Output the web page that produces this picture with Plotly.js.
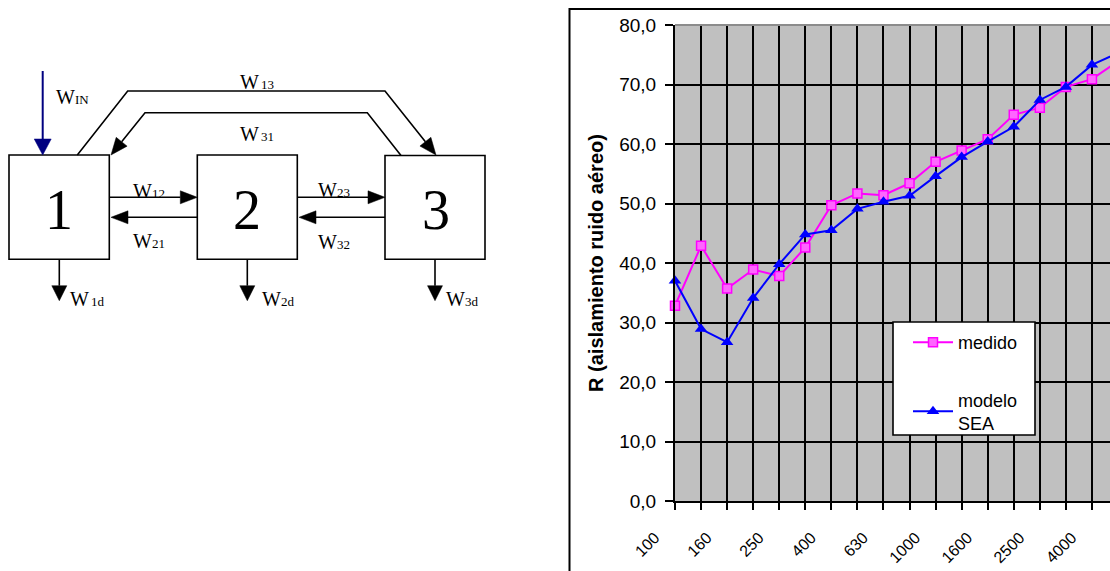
<!DOCTYPE html>
<html>
<head>
<meta charset="utf-8">
<script src="https://cdn.plot.ly/plotly-3.0.1.min.js"></script>
<style>
html,body{margin:0;padding:0;overflow:hidden;background:#fff;}
#chart{width:1300px;height:700px;}
</style>
</head>
<body>
<div id="chart"></div>
<script>
// ---- data ----
const categories = ['100','125','160','200','250','315','400','500','630','800','1000','1250','1600','2000','2500','3150','4000','5000'];
const tickLabels = ['100','','160','','250','','400','','630','','1000','','1600','','2500','','4000',''];
const medido = [32.8,42.9,35.7,38.9,37.8,42.6,49.7,51.7,51.4,53.4,57.0,58.9,60.8,64.9,66.1,69.6,70.9,73.9];
const modeloSEA = [37.0,28.9,26.7,34.1,39.8,44.8,45.5,49.1,50.3,51.3,54.6,57.8,60.4,62.9,67.4,69.6,73.3,75.3];
const seriesNames = ['medido','modelo<br>SEA'];
const yTitle = 'R (aislamiento ruido aéreo)';

// ---- figure geometry (pixels) ----
const W = 1300, H = 700;
const px = x => x / W;
const py = y => 1 - y / H;
const P = (x, y) => px(x).toFixed(5) + ',' + py(y).toFixed(5);

const SANS = 'Liberation Sans, Arial, sans-serif';
const SERIF = 'Liberation Serif, Times New Roman, serif';

const shapes = [];
const annotations = [];

function line(x0, y0, x1, y1, color, width) {
  shapes.push({type:'line', xref:'paper', yref:'paper', x0:px(x0), y0:py(y0), x1:px(x1), y1:py(y1),
    line:{color:color||'#000', width:width||1.6}});
}
function poly(pts, color, width) {
  let d = 'M ' + pts.map(p => P(p[0], p[1])).join(' L ');
  shapes.push({type:'path', xref:'paper', yref:'paper', path:d, line:{color:color||'#000', width:width||1.6}});
}
function head(tx, ty, dx, dy, L, w, color) {
  const n = Math.hypot(dx, dy); dx /= n; dy /= n;
  const bx = tx - L*dx, by = ty - L*dy;
  const qx = -dy, qy = dx;
  const d = 'M ' + P(tx, ty) + ' L ' + P(bx + w*qx, by + w*qy) + ' L ' + P(bx - w*qx, by - w*qy) + ' Z';
  shapes.push({type:'path', xref:'paper', yref:'paper', path:d, fillcolor:color||'#000', line:{color:color||'#000', width:0.5}});
  return [bx, by];
}
function arrow(x0, y0, tx, ty, L, w, color, width) {
  const b = head(tx, ty, tx - x0, ty - y0, L, w, color);
  line(x0, y0, b[0], b[1], color, width);
}
function rect(x0, y0, x1, y1) {
  shapes.push({type:'rect', xref:'paper', yref:'paper', x0:px(x0), y0:py(y0), x1:px(x1), y1:py(y1),
    line:{color:'#000', width:1.6}, fillcolor:'rgba(0,0,0,0)'});
}
function label(x, y, big, small, gap) {
  annotations.push({xref:'paper', yref:'paper', x:px(x), y:py(y), xanchor:'left', yanchor:'middle', showarrow:false,
    text: big + (gap ? '<span style="font-size:8px"> </span>' : '') + '<span style="font-size:13px">' + small + '</span>',
    font:{family:SERIF, size:20, color:'#000'}});
}
function bigNum(x, y, t) {
  annotations.push({xref:'paper', yref:'paper', x:px(x), y:py(y), xanchor:'center', yanchor:'middle', showarrow:false,
    text:t, font:{family:SERIF, size:56, color:'#000'}});
}

// ---- SEA diagram ----
rect(9, 155, 109.3, 259.3);
rect(197.3, 155, 297.3, 259.3);
rect(385, 155.5, 485, 259.3);
bigNum(58.5, 210, '1');
bigNum(247, 210, '2');
bigNum(436, 210, '3');

// input power
arrow(42.7, 71, 42.7, 155, 16, 8.5, '#000080', 2);
label(54, 97, 'W', 'IN', false);

// horizontal exchanges
arrow(109.3, 197.3, 197.3, 197.3, 17, 6.5, '#000', 1.6);
arrow(197.3, 217.3, 111, 217.3, 17, 6.5, '#000', 1.6);
arrow(297.3, 197.3, 385, 197.3, 17, 6.5, '#000', 1.6);
arrow(385, 217.3, 299, 217.3, 17, 6.5, '#000', 1.6);
label(131, 191, 'W', '12', false);
label(131, 241, 'W', '21', false);
label(316, 190, 'W', '23', false);
label(316, 242, 'W', '32', false);

// dissipation
arrow(59.3, 259.3, 59.3, 300.7, 15, 7.5, '#000', 1.6);
arrow(247.3, 259.3, 247.3, 300.7, 15, 7.5, '#000', 1.6);
arrow(435, 259.3, 435, 300.7, 15, 7.5, '#000', 1.6);
label(68, 299, 'W', '1d', true);
label(260, 299, 'W', '2d', false);
label(444, 299, 'W', '3d', false);

// 1 -> 3 and 3 -> 1 bridges
(function(){
  const b = head(436, 155, 436 - 385, 155 - 91, 17, 7, '#000');
  poly([[77.3,155],[127.7,91],[385,91],[b[0],b[1]]], '#000', 1.6);
  const c = head(111, 155, 111 - 145, 155 - 112.7, 17, 7, '#000');
  poly([[401,155.5],[367.3,112.7],[145,112.7],[c[0],c[1]]], '#000', 1.6);
})();
label(238, 82, 'W', '13', true);
label(238, 134, 'W', '31', true);

// ---- chart frame ----
shapes.push({type:'rect', xref:'paper', yref:'paper', x0:px(569.5), y0:py(9), x1:px(1290), y1:py(690),
  line:{color:'#000', width:2}, fillcolor:'rgba(0,0,0,0)', layer:'below'});
// grey top border of plot area
shapes.push({type:'line', xref:'x domain', yref:'y domain', x0:0, x1:1, y0:1, y1:1, line:{color:'#8c8c8c', width:2}, layer:'above'});
// legend box
shapes.push({type:'rect', xref:'paper', yref:'paper', x0:px(893), y0:py(322), x1:px(1035), y1:py(435),
  line:{color:'#000', width:1.6}, fillcolor:'#ffffff', layer:'above'});

const traces = [
  {x:categories, y:medido, name:seriesNames[0], type:'scatter', mode:'lines+markers', legendgroup:'a', cliponaxis:false,
   line:{color:'#FF00FF', width:2}, marker:{symbol:'square', size:9, color:'#FF66FF', line:{color:'#FF00FF', width:1.5}}},
  {x:categories, y:modeloSEA, name:seriesNames[1], type:'scatter', mode:'lines+markers', legendgroup:'b', cliponaxis:false,
   line:{color:'#0000FF', width:2}, marker:{symbol:'triangle-up', size:11, color:'#0000FF'}}
];

const layout = {
  width:W, height:H,
  margin:{l:0, r:0, t:0, b:0},
  paper_bgcolor:'#ffffff',
  plot_bgcolor:'#C0C0C0',
  separators:',.',
  font:{family:SANS, color:'#000'},
  showlegend:true,
  legend:{x:px(908), y:py(324), xanchor:'left', yanchor:'top', bgcolor:'rgba(0,0,0,0)', borderwidth:0,
    font:{family:SANS, size:18, color:'#000'}, traceorder:'grouped', tracegroupgap:31, itemwidth:40},
  xaxis:{type:'category', domain:[px(675), px(1118)], range:[0, categories.length - 1], fixedrange:true,
    showgrid:true, gridcolor:'#000', gridwidth:2, zeroline:false,
    showline:true, linecolor:'#000', linewidth:2,
    ticks:'outside', ticklen:7, tickwidth:2, tickcolor:'#000',
    tickmode:'array', tickvals:categories, ticktext:tickLabels, tickangle:-45,
    ticklabelshift:-20, ticklabelstandoff:12,
    tickfont:{family:SANS, size:16, color:'#000'}, automargin:false},
  yaxis:{domain:[py(501), py(25)], range:[0, 80], dtick:10, tickformat:'.1f', fixedrange:true,
    showgrid:true, gridcolor:'#000', gridwidth:2, zeroline:false,
    showline:true, linecolor:'#000', linewidth:2,
    ticks:'outside', ticklen:8, tickwidth:2, tickcolor:'#000', ticklabelstandoff:5,
    tickfont:{family:SANS, size:19, color:'#000'}, automargin:false,
    title:{text:'<b>' + yTitle + '</b>', standoff:10, font:{family:SANS, size:20, color:'#000'}}},
  shapes:shapes,
  annotations:annotations
};

Plotly.newPlot('chart', traces, layout, {displayModeBar:false, staticPlot:true});
</script>
</body>
</html>
